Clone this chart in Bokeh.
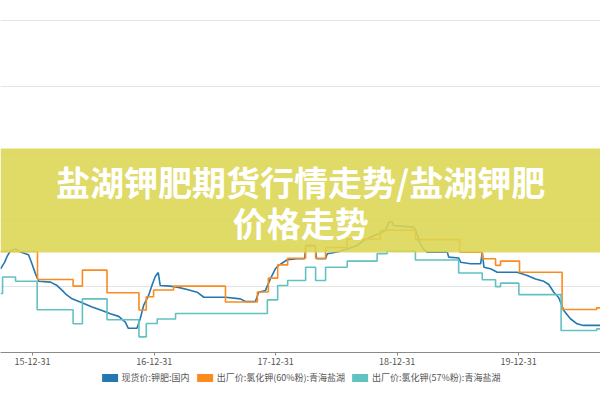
import pandas as pd
from bokeh.plotting import figure
from bokeh.layouts import column
from bokeh.models import (Range1d, FixedTicker, DatetimeTickFormatter, Grid,
                          BoxAnnotation, Label, Legend, LegendItem)
from bokeh.embed import file_html
from bokeh.resources import INLINE

# ---------------- data ----------------
series_names = ["现货价:钾肥:国内", "出厂价:氯化钾(60%粉):青海盐湖", "出厂价:氯化钾(57%粉):青海盐湖"]
series_colors = ["#2577b0", "#fb8a1f", "#62c1c1"]

spot_dates = ["2015-09-26", "2015-10-08", "2015-10-17", "2015-10-26", "2015-11-10", "2015-11-25",
              "2015-12-19", "2015-12-28", "2016-01-09", "2016-01-19", "2016-02-23", "2016-03-14",
              "2016-03-30", "2016-04-08", "2016-04-28", "2016-05-28", "2016-06-27", "2016-07-27",
              "2016-08-21", "2016-09-15", "2016-10-05", "2016-10-14", "2016-11-09", "2016-11-19",
              "2016-11-29", "2016-12-14", "2016-12-25", "2017-01-03", "2017-01-12", "2017-01-18",
              "2017-02-17", "2017-03-10", "2017-04-09", "2017-05-09", "2017-05-29", "2017-08-02",
              "2017-09-16", "2017-10-01", "2017-10-31", "2017-11-10", "2017-11-30", "2017-12-15",
              "2017-12-30", "2018-01-09", "2018-02-04", "2018-03-06", "2018-03-28", "2018-04-01",
              "2018-04-28", "2018-05-03", "2018-05-30", "2018-06-04", "2018-07-04", "2018-08-03",
              "2018-09-02", "2018-09-22", "2018-10-12", "2018-11-06", "2018-11-26", "2018-12-06",
              "2018-12-16", "2018-12-21", "2019-02-19", "2019-02-24", "2019-03-11", "2019-03-20",
              "2019-03-31", "2019-05-31", "2019-06-04", "2019-07-04", "2019-07-10", "2019-08-09",
              "2019-09-08", "2019-09-13", "2019-09-18", "2019-10-08", "2019-10-28", "2019-12-27",
              "2020-01-26", "2020-02-20", "2020-03-16", "2020-03-31", "2020-04-15", "2020-04-30",
              "2020-05-15", "2020-06-04", "2020-06-24", "2020-07-13", "2020-09-02"]
spot_vals = [1815, 1839, 1865, 1884, 1890, 1878,
             1868, 1839, 1796, 1768, 1765, 1752,
             1733, 1721, 1702, 1687, 1671, 1658,
             1646, 1636, 1614, 1591, 1591, 1628,
             1677, 1715, 1756, 1786, 1801, 1752,
             1750, 1746, 1737, 1727, 1708, 1708,
             1702, 1692, 1692, 1727, 1733, 1777,
             1815, 1828, 1849, 1853, 1853, 1903,
             1903, 1853, 1853, 1872, 1878, 1890,
             1903, 1922, 1934, 1947, 1959, 1991,
             1991, 1978, 1972, 1962, 1909, 1890,
             1878, 1878, 1859, 1856, 1840, 1834,
             1834, 1878, 1821, 1815, 1802, 1802,
             1790, 1777, 1768, 1756, 1727, 1706,
             1658, 1627, 1608, 1602, 1602]

kcl60_dates = ["2015-09-26", "2016-01-15", "2016-05-01", "2016-05-29", "2016-08-11", "2016-11-15",
               "2016-12-07", "2016-12-29", "2017-02-27", "2017-08-02", "2017-11-06", "2017-12-09",
               "2018-01-06", "2018-02-05", "2018-03-31", "2018-04-30", "2018-05-30", "2018-08-03",
               "2018-11-11", "2019-02-24", "2019-07-07", "2019-09-13", "2019-10-23", "2019-11-07",
               "2020-01-03", "2020-05-10", "2020-08-22", "2020-09-02"]
kcl60_vals = [1880, 1775, 1750, 1810, 1725, 1660,
              1710, 1735, 1750, 1690, 1728, 1780,
              1830, 1855, 1900, 1855, 1895, 1927,
              1960, 1925, 1878, 1853, 1828, 1844,
              1802, 1662, 1668, 1668]

kcl57_dates = ["2015-09-26", "2015-10-02", "2015-11-10", "2016-01-14", "2016-05-01", "2016-05-29",
               "2016-08-11", "2016-11-15", "2016-12-07", "2017-01-09", "2017-03-05", "2017-12-06",
               "2018-01-06", "2018-02-05", "2018-03-31", "2018-04-30", "2018-05-30", "2018-08-03",
               "2018-11-01", "2018-12-01", "2019-02-24", "2019-07-04", "2019-09-13", "2019-10-23",
               "2019-11-07", "2020-01-01", "2020-05-07", "2020-08-22", "2020-09-02"]
kcl57_vals = [1722, 1784, 1768, 1661, 1608, 1702,
              1623, 1559, 1609, 1626, 1647, 1698,
              1752, 1771, 1821, 1771, 1821, 1844,
              1872, 1881, 1848, 1799, 1774, 1748,
              1761, 1718, 1583, 1589, 1589]

tick_dates = ["2015-12-31", "2016-12-31", "2017-12-31", "2018-12-31", "2019-12-31"]
grid_vals = [1750, 2000, 2250, 2500, 2750]
title_lines = ["盐湖钾肥期货行情走势/盐湖钾肥", "价格走势"]

all_dates = [pd.to_datetime(spot_dates), pd.to_datetime(kcl60_dates), pd.to_datetime(kcl57_dates)]
all_vals = [spot_vals, kcl60_vals, kcl57_vals]

# ---------------- main figure ----------------
x_start, x_end = pd.Timestamp("2015-09-25 19:00"), pd.Timestamp("2020-09-02 10:00")
p = figure(frame_width=600, frame_height=352, x_axis_type="datetime",
           x_range=Range1d(x_start, x_end), y_range=Range1d(1500, 2825),
           y_axis_location=None, toolbar_location=None, output_backend="svg",
           min_border_left=0, min_border_right=0, min_border_top=0, min_border_bottom=0)
p.outline_line_color = None
p.background_fill_color = "white"
p.border_fill_color = "white"
p.xgrid.visible = False
p.ygrid.visible = False
p.add_layout(Grid(dimension=1, ticker=FixedTicker(ticks=grid_vals),
                  grid_line_color="#e4e4e4", grid_line_width=1), "center")

def ms(d):
    return pd.Timestamp(d).value / 1e6

xa = p.xaxis[0]
xa.ticker = FixedTicker(ticks=[ms(d) for d in tick_dates])
fmt = "%y-%m-%d"
xa.formatter = DatetimeTickFormatter(years=fmt, months=fmt, days=fmt, hours=fmt,
                                     minutes=fmt, seconds=fmt, milliseconds=fmt,
                                     microseconds=fmt, hourmin=fmt, minsec=fmt)
xa.axis_line_color = "#8a8a8a"
xa.major_tick_line_color = "#8a8a8a"
xa.major_tick_out = 3
xa.major_tick_in = 0
xa.minor_tick_line_color = None
xa.major_label_standoff = 2
xa.major_label_text_font = "Noto Sans CJK SC"
xa.major_label_text_font_size = "9px"
xa.major_label_text_color = "#555555"

p.line(all_dates[0], all_vals[0], line_color=series_colors[0], line_width=1.6)
p.step(all_dates[1], all_vals[1], mode="after", line_color=series_colors[1], line_width=1.6)
p.step(all_dates[2], all_vals[2], mode="after", line_color=series_colors[2], line_width=1.6)

# banner overlay
banner = BoxAnnotation(bottom=1876, top=2268, fill_color="#dcd552", fill_alpha=0.88,
                       line_color=None, level="annotation")
p.add_layout(banner)

center_x = ms("2018-03-16")
for txt, yv in zip(title_lines, [2144, 1991]):
    p.add_layout(Label(x=center_x, y=yv, text=txt, text_align="center", text_baseline="middle",
                       text_font="Noto Sans CJK SC", text_font_size="34px",
                       text_font_style="bold", text_color="white"))

# ---------------- legend strip ----------------
lf = figure(width=600, height=20, x_range=Range1d(0, 1), y_range=Range1d(0, 1),
            x_axis_location=None, y_axis_location=None, toolbar_location=None,
            output_backend="svg", min_border_left=0, min_border_right=0,
            min_border_top=0, min_border_bottom=0)
lf.outline_line_color = None
lf.xgrid.visible = False
lf.ygrid.visible = False
proxies = []
for d, v, c in zip(all_dates, all_vals, series_colors):
    # zero-size patch from each series' first point, hidden; used only as legend swatch
    proxies.append(lf.quad(left=d[:1], right=d[:1], top=v[:1], bottom=v[:1],
                           fill_color=c, line_color=None, visible=False))

legend = Legend(items=[LegendItem(label=n, renderers=[r]) for n, r in zip(series_names, proxies)],
                orientation="horizontal", location="center",
                glyph_width=20, glyph_height=10, label_height=10, label_standoff=2,
                spacing=5, padding=0, margin=0, inactive_fill_alpha=0,
                label_text_font="Noto Sans CJK SC", label_text_font_size="9px",
                label_text_color="#555555", border_line_color=None,
                background_fill_alpha=0)
lf.add_layout(legend)

layout = column(p, lf, spacing=0)
open("out.html", "w").write(file_html(layout, INLINE))
